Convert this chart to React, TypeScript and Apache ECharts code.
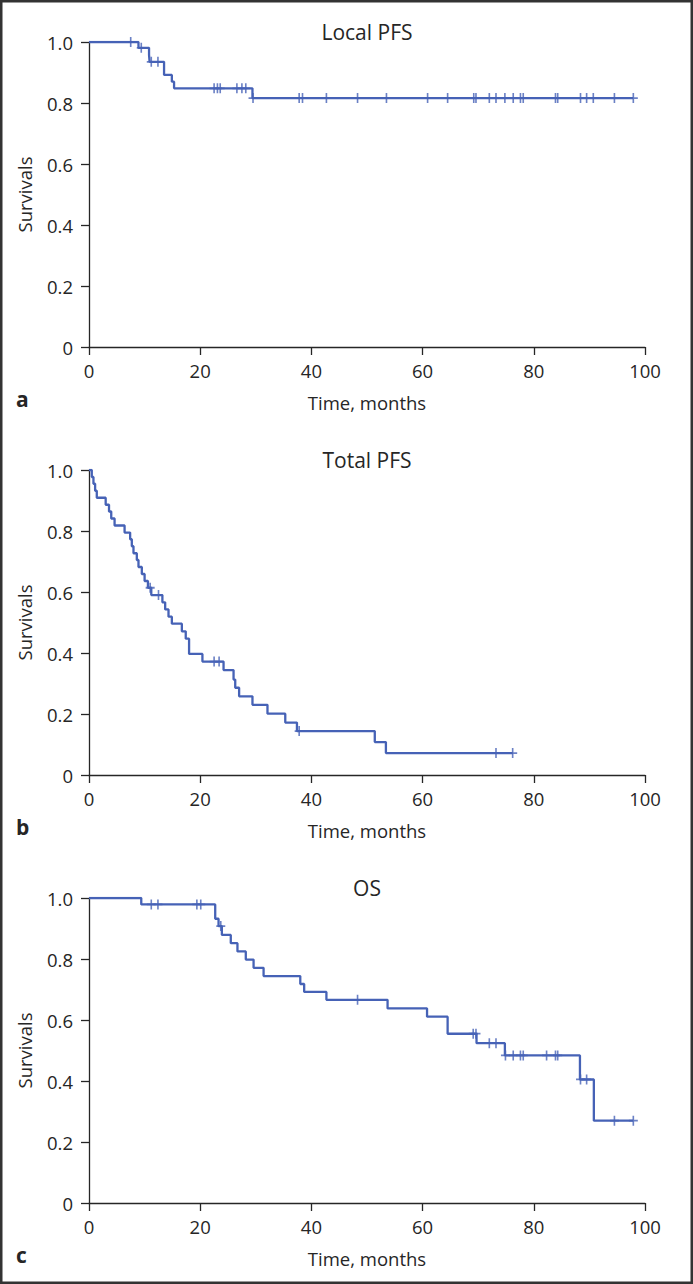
import React, { useEffect, useRef } from "react";
import * as echarts from "echarts";

const FONT = "'Open Sans', 'Noto Sans', sans-serif";
const BLUE = "#4662b6";
const INK = "#262626";

const xTickValues = [0, 20, 40, 60, 80, 100];
const yTickValues = [0, 0.2, 0.4, 0.6, 0.8, 1.0];
const panelTitles = ["Local PFS", "Total PFS", "OS"];
const panelLetters = ["a", "b", "c"];
const xAxisTitle = "Time, months";
const yAxisTitle = "Survivals";

// Local PFS: event times (months) and survival after each event
const localTimes = [0, 8.9, 10.8, 10.9, 13.5, 14.9, 15.3, 29.4, 97.9];
const localSurv = [1, 0.981, 0.958, 0.935, 0.892, 0.87, 0.848, 0.816, 0.816];
const localCensors = [
  7.5, 9.4, 11.2, 12.4, 22.5, 23.1, 23.6, 26.6, 27.5, 28.2, 29.5, 37.8, 38.4, 42.7, 48.3,
  53.5, 60.9, 64.5, 69.2, 69.6, 72.0, 73.2, 74.8, 76.3, 77.6, 78.1, 83.9, 84.3, 88.4, 89.5,
  90.7, 94.5, 97.9,
];

// Total PFS
const totalTimes = [
  0, 0.5, 0.8, 1.1, 1.4, 3.0, 3.6, 4.0, 4.6, 6.4, 7.4, 7.7, 8.0, 8.6, 8.9, 9.5, 10.0, 10.6,
  11.2, 13.2, 13.7, 14.3, 14.9, 16.7, 17.4, 18.0, 20.4, 24.2, 26.0, 26.3, 27.0, 29.4, 32.1,
  35.3, 37.4, 51.4, 53.4, 76.2,
];
const totalSurv = [
  1, 0.977, 0.955, 0.932, 0.909, 0.886, 0.864, 0.841, 0.818, 0.795, 0.773, 0.75, 0.727,
  0.705, 0.682, 0.659, 0.636, 0.614, 0.59, 0.566, 0.543, 0.519, 0.496, 0.471, 0.447, 0.397,
  0.372, 0.344, 0.313, 0.286, 0.258, 0.23, 0.201, 0.172, 0.144, 0.108, 0.072, 0.072,
];
const totalCensors = [11.0, 12.5, 22.5, 23.4, 37.8, 73.2, 76.2];

// OS
const osTimes = [
  0, 9.4, 22.7, 23.3, 23.9, 25.5, 26.7, 28.2, 29.6, 31.4, 38.0, 38.7, 42.7, 53.7, 60.8, 64.5,
  69.7, 74.8, 88.3, 90.8, 97.9,
];
const osSurv = [
  1, 0.979, 0.932, 0.908, 0.879, 0.852, 0.825, 0.798, 0.771, 0.744, 0.718, 0.692, 0.666,
  0.638, 0.611, 0.555, 0.524, 0.484, 0.405, 0.27, 0.27,
];
const osCensors = [
  11.2, 12.4, 19.4, 20.1, 23.7, 48.3, 69.1, 69.6, 72.0, 73.2, 74.9, 76.3, 77.6, 78.1, 82.3,
  83.9, 84.3, 88.4, 89.5, 94.5, 97.9,
];

const panels = [
  { times: localTimes, surv: localSurv, censors: localCensors },
  { times: totalTimes, surv: totalSurv, censors: totalCensors },
  { times: osTimes, surv: osSurv, censors: osCensors },
];

const W = 693;
const H = 1284;
const PANEL_TOPS = [42, 470, 898];
const GRID_LEFT = 89;
const GRID_W = 556;
const GRID_H = 305;

const PLUS = "path://M4.1,0H5.9V4.1H10V5.9H5.9V10H4.1V5.9H0V4.1H4.1Z";

function levelAt(times: number[], surv: number[], t: number) {
  let v = surv[0];
  for (let i = 0; i < times.length; i++) if (times[i] <= t) v = surv[i];
  return v;
}

export default function App() {
  const ref = useRef<HTMLDivElement>(null);
  useEffect(() => {
    if (!ref.current) return;
    const chart = echarts.init(ref.current, undefined, { renderer: "svg" });
    const txt = { fontFamily: FONT, color: INK };
    const option: any = {
      animation: false,
      backgroundColor: "#ffffff",
      grid: PANEL_TOPS.map((top) => ({ left: GRID_LEFT, top, width: GRID_W, height: GRID_H })),
      xAxis: PANEL_TOPS.map((_, i) => ({
        type: "value",
        gridIndex: i,
        min: xTickValues[0],
        max: xTickValues[xTickValues.length - 1],
        interval: 20,
        splitLine: { show: false },
        axisLine: { show: true, onZero: false, lineStyle: { color: INK, width: 1.3 } },
        axisTick: { show: true, inside: false, length: 8, lineStyle: { color: INK, width: 1.3 } },
        axisLabel: { ...txt, fontSize: 18.5, margin: 14 },
        name: xAxisTitle,
        nameLocation: "middle",
        nameGap: 46,
        nameTextStyle: { ...txt, fontSize: 18.5 },
      })),
      yAxis: PANEL_TOPS.map((_, i) => ({
        type: "value",
        gridIndex: i,
        min: yTickValues[0],
        max: yTickValues[yTickValues.length - 1],
        interval: 0.2,
        splitLine: { show: false },
        axisLine: { show: true, onZero: false, lineStyle: { color: INK, width: 1.3 } },
        axisTick: { show: true, inside: false, length: 8, lineStyle: { color: INK, width: 1.3 } },
        axisLabel: {
          ...txt,
          fontSize: 18.5,
          margin: 16,
          formatter: (v: number) => (v === 0 ? "0" : v.toFixed(1)),
        },
        name: yAxisTitle,
        nameLocation: "middle",
        nameGap: 55,
        nameTextStyle: { ...txt, fontSize: 18.5 },
      })),
      series: panels.flatMap((p, i) => [
        {
          type: "line",
          xAxisIndex: i,
          yAxisIndex: i,
          step: "end",
          symbol: "none",
          data: p.times.map((t, j) => [t, p.surv[j]]),
          lineStyle: { color: BLUE, width: 2.3 },
          silent: true,
        },
        {
          type: "scatter",
          xAxisIndex: i,
          yAxisIndex: i,
          symbol: PLUS,
          symbolSize: [9, 10],
          data: p.censors.map((t) => [t, levelAt(p.times, p.surv, t)]),
          itemStyle: { color: BLUE },
          silent: true,
        },
      ]),
      graphic: [
        ...PANEL_TOPS.map((top, i) => ({
          type: "text",
          x: GRID_LEFT + GRID_W / 2,
          y: top - 10,
          style: {
            text: panelTitles[i],
            font: `21px ${FONT}`,
            fill: INK,
            textAlign: "center",
            textVerticalAlign: "middle",
          },
        })),
        ...PANEL_TOPS.map((top, i) => ({
          type: "text",
          x: 16,
          y: top + 357,
          style: {
            text: panelLetters[i],
            font: `bold 21px ${FONT}`,
            fill: INK,
            textAlign: "left",
            textVerticalAlign: "middle",
          },
        })),
        {
          type: "rect",
          shape: { x: 1.25, y: 1.25, width: W - 2.5, height: H - 2.5 },
          style: { fill: "none", stroke: "#333333", lineWidth: 2.5 },
          silent: true,
        },
      ],
    };
    chart.setOption(option);
    return () => chart.dispose();
  }, []);
  return (
    <div
      ref={ref}
      style={{ position: "absolute", left: 0, top: 0, width: W, height: H, background: "#fff" }}
    />
  );
}
